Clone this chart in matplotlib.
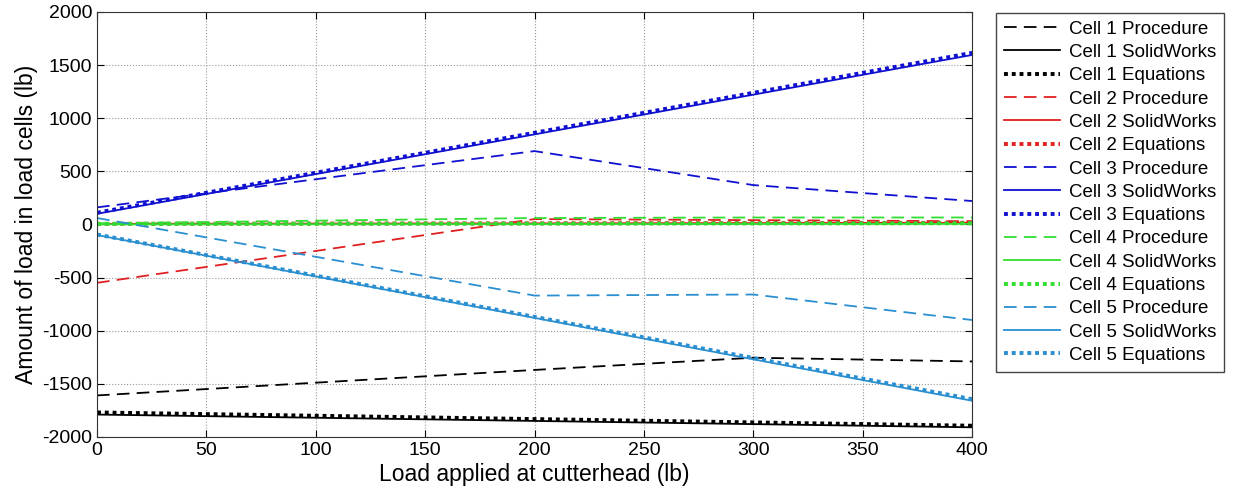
import numpy as np
import matplotlib.pyplot as plt

plt.rcParams['font.family'] = ['Liberation Sans', 'DejaVu Sans']
plt.rcParams['axes.unicode_minus'] = False

# load applied at cutterhead (lb)
x_proc = [0, 100, 200, 300, 400]
x_line = [0, 400]

# measured / procedure values (piecewise)
cell1_proc = [-1610, -1490, -1370, -1255, -1290]
cell2_proc = [-550, -250, 50, 40, 30]
cell3_proc = [160, 425, 690, 370, 220]
cell4_proc = [10, 35, 60, 65, 65]
cell5_proc = [60, -305, -670, -660, -900]

# SolidWorks values
cell1_sw = [-1790, -1910]
cell2_sw = [5, 15]
cell3_sw = [100, 1595]
cell4_sw = [0, 5]
cell5_sw = [-100, -1660]

# equations values
cell1_eq = [-1770, -1895]
cell2_eq = [5, 15]
cell3_eq = [110, 1615]
cell4_eq = [5, 10]
cell5_eq = [-95, -1645]

colors = ['black', '#e02020', '#1010d0', '#30dd30', '#2a8fd0']
procs = [cell1_proc, cell2_proc, cell3_proc, cell4_proc, cell5_proc]
sws = [cell1_sw, cell2_sw, cell3_sw, cell4_sw, cell5_sw]
eqs = [cell1_eq, cell2_eq, cell3_eq, cell4_eq, cell5_eq]

fig = plt.figure(figsize=(12.33, 4.97), dpi=100)
ax = fig.add_axes([0.0787, 0.121, 0.7097, 0.855])

for i in range(5):
    c = colors[i]
    ax.plot(x_proc, procs[i], color=c, ls=(0, (7, 4)), lw=1.3, label=f'Cell {i+1} Procedure')
    ax.plot(x_line, sws[i], color=c, ls='-', lw=1.3, label=f'Cell {i+1} SolidWorks')
    ax.plot(x_line, eqs[i], color=c, ls=(0, (1, 1)), lw=2.8, label=f'Cell {i+1} Equations')

ax.set_xlim(0, 400)
ax.set_ylim(-2000, 2000)
ax.set_xticks(np.arange(0, 401, 50))
ax.set_yticks(np.arange(-2000, 2001, 500))
ax.grid(True, ls=':', color='#999999', lw=0.8)
ax.tick_params(direction='in', top=True, right=True, labelsize=14, length=5)
ax.set_xlabel('Load applied at cutterhead (lb)', fontsize=16.5, labelpad=3)
ax.set_ylabel('Amount of load in load cells (lb)', fontsize=16.5, labelpad=3)
for s in ax.spines.values():
    s.set_color('#333333')

fig.legend(loc='upper left', bbox_to_anchor=(996 / 1233, 1 - 13 / 497),
           fontsize=13.5, handlelength=3.0, handletextpad=0.5, labelspacing=0.33,
           fancybox=False, edgecolor='#444444', framealpha=1, borderpad=0.4,
           borderaxespad=0)

plt.savefig('out.png', dpi=100)
